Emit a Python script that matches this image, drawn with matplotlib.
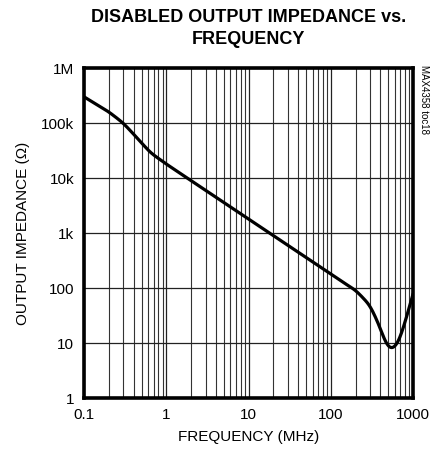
import matplotlib
matplotlib.use("Agg")
import matplotlib.pyplot as plt
from matplotlib.ticker import LogLocator, FixedLocator, NullFormatter, NullLocator
import numpy as np

freq_mhz = [0.1, 0.2, 0.3, 0.44, 0.64, 1.0, 1.8, 5.0, 10, 20, 50, 100, 150, 200, 300, 400, 450, 500, 540, 600, 680, 800, 1000]
impedance_ohm = [3.0e5, 1.6e5, 1.0e5, 5.4e4, 2.9e4, 1.8e4, 1.0e4, 3.6e3, 1.8e3, 900, 360, 180, 120, 92, 49, 19, 11, 8.2, 7.6, 8.2, 11, 24, 78]

x_ticks = [0.1, 1, 10, 100, 1000]
x_labels = ["0.1", "1", "10", "100", "1000"]
y_ticks = [1, 10, 100, 1e3, 1e4, 1e5, 1e6]
y_labels = ["1", "10", "100", "1k", "10k", "100k", "1M"]

FONT = ["Liberation Sans Narrow", "Liberation Sans", "DejaVu Sans"]
plt.rcParams['font.family'] = FONT

fig = plt.figure(figsize=(4.38, 4.54), dpi=100)
ax = fig.add_axes([0.192, 0.123, 0.751, 0.727])

# smooth curve through the read points in log-log space
lx = np.log10(freq_mhz)
ly = np.log10(impedance_ohm)
step = 0.005
xs = np.arange(lx[0], lx[-1] + step / 2, step)
ys = np.interp(xs, lx, ly)
sigma = 0.04
k = np.arange(-4 * sigma, 4 * sigma + step / 2, step)
kern = np.exp(-0.5 * (k / sigma) ** 2)
kern /= kern.sum()
npad = len(k) // 2
left_slope = (ys[1] - ys[0]) / step
right_slope = (ys[-1] - ys[-2]) / step
pad_l = ys[0] - left_slope * step * np.arange(npad, 0, -1)
pad_r = ys[-1] + right_slope * step * np.arange(1, npad + 1)
ys_s = np.convolve(np.concatenate([pad_l, ys, pad_r]), kern, mode="valid")

ax.plot(10**xs, 10**ys_s, color="black", lw=2.3, solid_capstyle="round", zorder=3)

ax.set_xscale("log")
ax.set_yscale("log")
ax.set_xlim(0.1, 1000)
ax.set_ylim(1, 1e6)

ax.xaxis.set_major_locator(FixedLocator(x_ticks))
ax.set_xticklabels(x_labels)
ax.xaxis.set_minor_locator(LogLocator(base=10, subs=np.arange(2, 10)))
ax.xaxis.set_minor_formatter(NullFormatter())
ax.yaxis.set_major_locator(FixedLocator(y_ticks))
ax.set_yticklabels(y_labels)
ax.yaxis.set_minor_locator(NullLocator())

ax.grid(True, which="major", axis="both", color="#222222", lw=0.9)
ax.grid(True, which="minor", axis="x", color="#333333", lw=0.8)
ax.tick_params(which="both", length=0, labelsize=11, pad=7, colors="black")
for s in ax.spines.values():
    s.set_linewidth(2.6)
    s.set_color("black")

ax.set_xlabel("FREQUENCY (MHz)", fontsize=11, labelpad=6)
ax.set_ylabel("OUTPUT IMPEDANCE (\u03a9)", fontsize=11, labelpad=8)

fig.text(0.567, 0.962, "DISABLED OUTPUT IMPEDANCE vs.", ha="center", va="center",
         fontsize=13, fontweight="bold")
fig.text(0.567, 0.912, "FREQUENCY", ha="center", va="center",
         fontsize=13, fontweight="bold")
fig.text(0.968, 0.857, "MAX4358 toc18", rotation=270, ha="center", va="top", fontsize=7)

fig.savefig("out.png", dpi=100)
